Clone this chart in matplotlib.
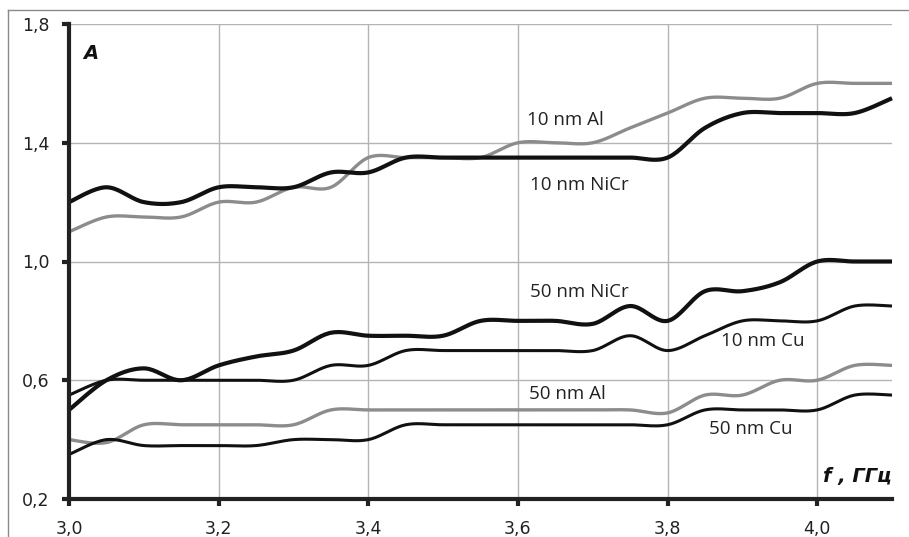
import numpy as np
import matplotlib
matplotlib.use("Agg")
import matplotlib.pyplot as plt
from matplotlib.lines import Line2D

# ---- data ----
freq = [3.00, 3.05, 3.10, 3.15, 3.20, 3.25, 3.30, 3.35, 3.40, 3.45, 3.50, 3.55,
        3.60, 3.65, 3.70, 3.75, 3.80, 3.85, 3.90, 3.95, 4.00, 4.05, 4.10]

nicr_10 = [1.20, 1.25, 1.20, 1.20, 1.25, 1.25, 1.25, 1.30, 1.30, 1.35, 1.35, 1.35,
           1.35, 1.35, 1.35, 1.35, 1.35, 1.45, 1.50, 1.50, 1.50, 1.50, 1.55]
al_10 = [1.10, 1.15, 1.15, 1.15, 1.20, 1.20, 1.25, 1.25, 1.35, 1.35, 1.35, 1.35,
         1.40, 1.40, 1.40, 1.45, 1.50, 1.55, 1.55, 1.55, 1.60, 1.60, 1.60]
nicr_50 = [0.50, 0.60, 0.64, 0.60, 0.65, 0.68, 0.70, 0.76, 0.75, 0.75, 0.75, 0.80,
           0.80, 0.80, 0.79, 0.85, 0.80, 0.90, 0.90, 0.93, 1.00, 1.00, 1.00]
cu_10 = [0.55, 0.60, 0.60, 0.60, 0.60, 0.60, 0.60, 0.65, 0.65, 0.70, 0.70, 0.70,
         0.70, 0.70, 0.70, 0.75, 0.70, 0.75, 0.80, 0.80, 0.80, 0.85, 0.85]
al_50 = [0.40, 0.39, 0.45, 0.45, 0.45, 0.45, 0.45, 0.50, 0.50, 0.50, 0.50, 0.50,
         0.50, 0.50, 0.50, 0.50, 0.49, 0.55, 0.55, 0.60, 0.60, 0.65, 0.65]
cu_50 = [0.35, 0.40, 0.38, 0.38, 0.38, 0.38, 0.40, 0.40, 0.40, 0.45, 0.45, 0.45,
         0.45, 0.45, 0.45, 0.45, 0.45, 0.50, 0.50, 0.50, 0.50, 0.55, 0.55]

series_labels = ["10 nm Al", "10 nm NiCr", "50 nm NiCr", "10 nm Cu", "50 nm Al", "50 nm Cu"]
xticks = [3.0, 3.2, 3.4, 3.6, 3.8, 4.0]
yticks = [0.2, 0.6, 1.0, 1.4, 1.8]


def smooth(x, y, n=20):
    """Excel-style smoothed line (Catmull-Rom via cubic Bezier)."""
    x = np.asarray(x, float)
    y = np.asarray(y, float)
    P = np.column_stack([x, y])
    out = []
    t = np.linspace(0, 1, n, endpoint=False)[:, None]
    for i in range(len(P) - 1):
        p0 = P[i - 1] if i > 0 else P[i]
        p1 = P[i]
        p2 = P[i + 1]
        p3 = P[i + 2] if i + 2 < len(P) else P[i + 1]
        c1 = p1 + (p2 - p0) / 6.0
        c2 = p2 - (p3 - p1) / 6.0
        seg = ((1 - t) ** 3) * p1 + 3 * ((1 - t) ** 2) * t * c1 + 3 * (1 - t) * t ** 2 * c2 + t ** 3 * p2
        out.append(seg)
    out.append(P[-1:])
    out = np.vstack(out)
    return out[:, 0], out[:, 1]


W, H = 909, 537
fig = plt.figure(figsize=(W / 100, H / 100), dpi=100)
L, R, T, B = 69, 892, 24, 499
ax = fig.add_axes([L / W, (H - B) / H, (R - L) / W, (B - T) / H])

ax.set_xlim(3.0, 4.1)
ax.set_ylim(0.2, 1.8)

black = "#111111"
gray = "#8c8c8c"
styles = [
    (al_10, gray, 2.4),
    (nicr_10, black, 3.0),
    (nicr_50, black, 3.0),
    (cu_10, black, 2.2),
    (al_50, gray, 2.4),
    (cu_50, black, 2.2),
]
for vals, col, lw in styles:
    sx, sy = smooth(freq, vals)
    ax.plot(sx, sy, color=col, lw=lw, solid_capstyle="butt", zorder=3, clip_on=False)

ax.set_xticks(xticks)
ax.set_yticks(yticks)
ax.set_xticklabels([f"{v:.1f}".replace(".", ",") for v in xticks])
ax.set_yticklabels([f"{v:.1f}".replace(".", ",") for v in yticks])

ax.grid(True, color="#b4b4b4", lw=1.0, zorder=0)
ax.set_axisbelow(True)
for s in ["top", "right"]:
    ax.spines[s].set_visible(False)
for s in ["left", "bottom"]:
    ax.spines[s].set_linewidth(3.0)
    ax.spines[s].set_color("#222222")
    ax.spines[s].set_zorder(4)

ax.tick_params(axis="both", direction="out", length=5, width=3.0, color="#222222",
               labelsize=12.5, labelcolor="#222222")
ax.tick_params(axis="x", pad=10)
ax.tick_params(axis="y", pad=9)

# axis titles
ax.text(3.019, 1.7, "A", fontsize=14, fontweight="bold", fontstyle="italic",
        ha="left", va="center", color="#111111")
ax.text(4.1, 0.277, "f , ГГц", fontsize=14, fontweight="bold", fontstyle="italic",
        ha="right", va="center", color="#111111")

# series labels
label_pos = [(3.612, 1.475), (3.616, 1.256), (3.616, 0.897), (3.871, 0.733),
             (3.615, 0.554), (3.855, 0.435)]
for txt, (lx, ly) in zip(series_labels, label_pos):
    ax.text(lx, ly, txt, fontsize=13.5, family="Open Sans", ha="left", va="center",
            color="#222222", zorder=5)

# outer frame (chart border)
fig.add_artist(Line2D([8 / W, 1.0], [1 - 10 / H, 1 - 10 / H], color="#8a8a8a", lw=1.0))
fig.add_artist(Line2D([8 / W, 8 / W], [0, 1 - 10 / H], color="#8a8a8a", lw=1.0))

fig.savefig("out.png", dpi=100)
